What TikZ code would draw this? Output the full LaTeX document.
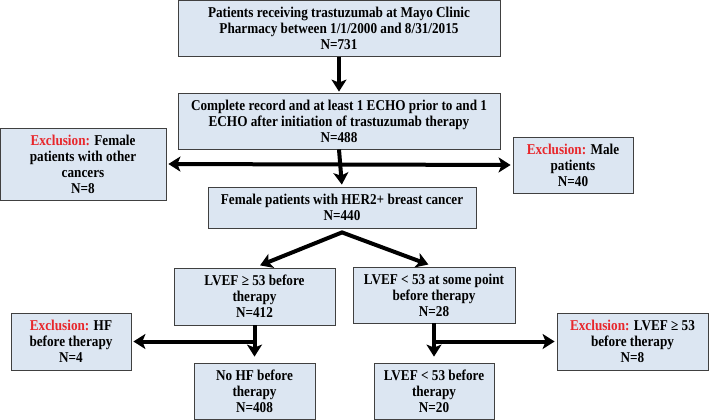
\documentclass[tikz,border=0pt]{standalone}
\usepackage{fontspec}
\setmainfont{Liberation Serif}[FakeStretch=0.88]
\usetikzlibrary{arrows.meta}

\definecolor{boxfill}{HTML}{DCE6F2}
\definecolor{boxline}{HTML}{404040}
\definecolor{exred}{HTML}{E8262B}
\newcommand{\exclword}{\textcolor{exred}{Exclusion:} }

\begin{document}
\begin{tikzpicture}[x=1pt,y=1pt,
  every node/.style={font=\fontsize{15}{16}\selectfont\bfseries},
  box/.style={draw=boxline, line width=0.8pt, fill=boxfill, align=center, inner sep=2pt},
  tip/.tip={Stealth[length=12pt,width=15pt,inset=3pt]},
  arr/.style={line width=4pt, -tip}]

\useasboundingbox (0,0) rectangle (709,-420);

% Main column
\node[box, minimum width=322pt, minimum height=56pt] (src) at (339,-28.5)
  {Patients receiving trastuzumab at Mayo Clinic\\ Pharmacy between 1/1/2000 and 8/31/2015\\ N=731};
\node[box, minimum width=322pt, minimum height=56pt] (rec) at (339,-121)
  {Complete record and at least 1 ECHO prior to and 1\\ ECHO after initiation of trastuzumab therapy\\ N=488};
\node[box, minimum width=268pt, minimum height=41pt] (her2) at (342,-207.5)
  {Female patients with HER2+ breast cancer\\ N=440};

% First exclusions
\node[box, minimum width=166pt, minimum height=72pt] (exclF) at (83,-164)
  {\exclword Female\\ patients with other\\ cancers\\ N=8};
\node[box, minimum width=120pt, minimum height=56pt] (exclM) at (573,-165)
  {\exclword Male\\ patients\\ N=40};

% LVEF split
\node[box, minimum width=161pt, minimum height=57pt] (hi) at (254.5,-296.5)
  {LVEF ≥ 53 before\\ therapy\\ N=412};
\node[box, minimum width=162pt, minimum height=56pt] (lo) at (434,-295)
  {LVEF < 53 at some point\\ before therapy\\ N=28};

% Bottom row
\node[box, minimum width=120pt, minimum height=57pt] (exclHF) at (71,-341.5)
  {\exclword HF\\ before therapy\\ N=4};
\node[box, minimum width=121pt, minimum height=56pt] (noHF) at (254.5,-391)
  {No HF before\\ therapy\\ N=408};
\node[box, minimum width=120pt, minimum height=56pt] (loB) at (434,-391)
  {LVEF < 53 before\\ therapy\\ N=20};
\node[box, minimum width=151pt, minimum height=57pt] (exclLV) at (632.5,-341.5)
  {\exclword LVEF ≥ 53\\ before therapy\\ N=8};

\coordinate (fork) at ([yshift=-4pt]her2.south);

% Connectors
\draw[arr, shorten >=1pt] (src.south) -- (rec.north);
\draw[arr, shorten >=2pt] (rec.south) -- (her2.north);
\draw[line width=4pt, tip-tip, shorten <=2pt, shorten >=2pt] (exclF.east) -- (exclM.west);
\draw[line width=4pt, line join=miter, tip-tip, shorten <=6pt, shorten >=6pt]
  (hi.north) -- (fork) -- (lo.north);
\draw[arr, shorten >=6pt] (hi.south) -- (noHF.north);
\draw[arr, shorten >=2pt] ([xshift=2pt]hi.south |- exclHF.east) -- (exclHF.east);
\draw[arr, shorten >=6pt] (lo.south) -- (loB.north);
\draw[arr, shorten >=2pt] ([xshift=-2pt]lo.south |- exclLV.west) -- (exclLV.west);

\end{tikzpicture}
\end{document}
